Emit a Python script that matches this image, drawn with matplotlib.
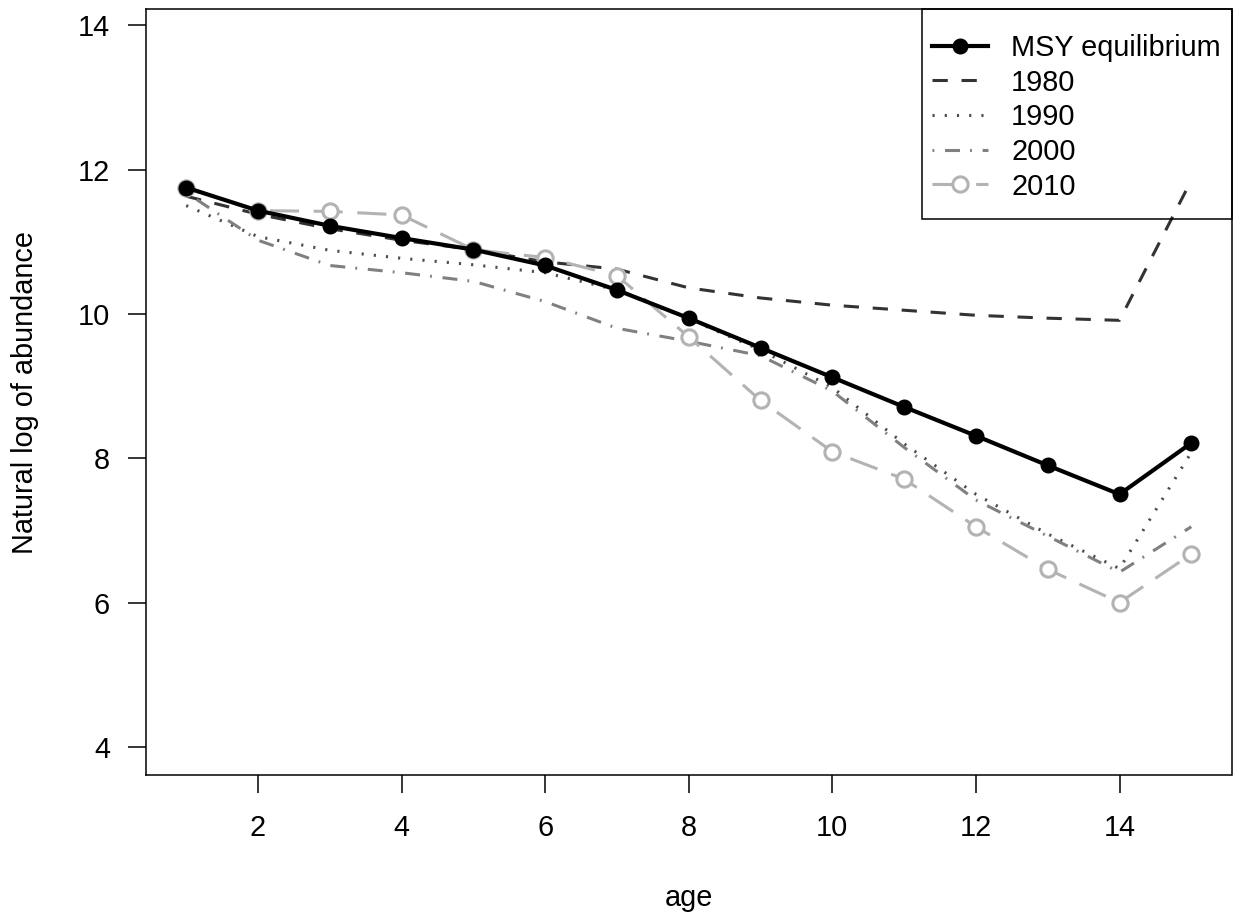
import matplotlib
matplotlib.use('Agg')
import matplotlib.pyplot as plt
from matplotlib.patches import Rectangle

plt.rcParams['font.family'] = ['Liberation Sans', 'DejaVu Sans']

age = list(range(1, 16))

msy = [11.75, 11.43, 11.22, 11.05, 10.89, 10.67, 10.33, 9.94, 9.53, 9.12,
       8.71, 8.31, 7.90, 7.50, 8.21]
yr1980 = [11.63, 11.38, 11.18, 11.02, 10.89, 10.72, 10.62, 10.36, 10.22, 10.12,
          10.05, 9.98, 9.94, 9.91, 11.85]
yr1990 = [11.50, 11.07, 10.88, 10.77, 10.68, 10.57, 10.33, 9.93, 9.50, 8.98,
          8.20, 7.50, 6.95, 6.47, 8.08]
yr2000 = [11.68, 11.02, 10.67, 10.57, 10.45, 10.17, 9.80, 9.62, 9.42, 8.93,
          8.15, 7.42, 6.92, 6.42, 7.05]
yr2010 = [11.75, 11.43, 11.42, 11.37, 10.89, 10.78, 10.53, 9.68, 8.80, 8.09,
          7.71, 7.05, 6.46, 6.00, 6.67]

fs = 20.8

fig = plt.figure(figsize=(12.39, 9.19), dpi=100)
ax = fig.add_axes([146 / 1239, 1 - 775 / 919, (1231.5 - 146) / 1239, (775 - 9.3) / 919])

ax.plot(age, msy, color='black', lw=3, marker='o', ms=10.5, label='MSY equilibrium', zorder=5)
ax.plot(age, yr1980, color='#333333', lw=2.2, dashes=(5, 4.5), label='1980')
ax.plot(age, yr1990, color='#4d4d4d', lw=2.2, dashes=(0.7, 3.3), label='1990')
ax.plot(age, yr2000, color='#808080', lw=2.2, dashes=(0.6, 3.5, 4.9, 3.3), label='2000')
ax.plot(age, yr2010, color='#b3b3b3', lw=2.2, dashes=(9.5, 4.8), marker='o', ms=11,
        mfc='white', mec='#b3b3b3', mew=2.2, label='2010')

ax.set_xlim(0.44, 15.56)
ax.set_ylim(3.61, 14.22)
ax.set_xticks(range(2, 15, 2))
ax.set_yticks(range(4, 15, 2))
ax.tick_params(direction='out', length=13, width=1.1, labelsize=fs, pad=13)
ax.tick_params(axis='x', pad=15)
for s in ax.spines.values():
    s.set_linewidth(1.1)

ax.set_xlabel('age', fontsize=fs, labelpad=30)
ax.set_ylabel('Natural log of abundance', fontsize=fs, labelpad=28)

leg = ax.legend(loc='upper right', bbox_to_anchor=(1, 1), borderaxespad=0,
                fontsize=fs, frameon=False,
                handlelength=1.95, handletextpad=0.8, labelspacing=0.23,
                borderpad=0.3)
leg.set_bbox_to_anchor((1 - 2 / 1085, 1 - 16 / 766), transform=ax.transAxes)

# legend frame, drawn a little taller than the entries (as R does)
fig.canvas.draw()
bb = leg.get_window_extent().transformed(ax.transAxes.inverted())
ax_h = 766.0
x0 = bb.x0 - 1 / 1085
y0 = bb.y0 - 10 / ax_h
frame = Rectangle((x0, y0), 1 - x0, 1 - y0,
                  transform=ax.transAxes, fill=False, edgecolor='black', lw=1.1,
                  clip_on=False, zorder=6)
ax.add_patch(frame)

fig.savefig('out.png', dpi=100)
